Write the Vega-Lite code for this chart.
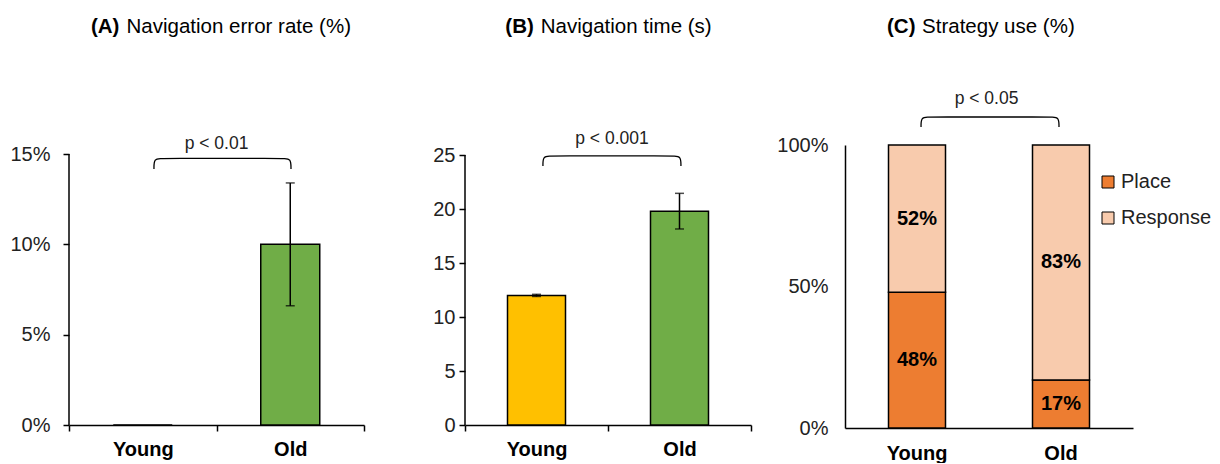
{
  "$schema": "https://vega.github.io/schema/vega-lite/v6.json",
  "padding": {"left": 9, "top": 16, "right": 0, "bottom": 0},
  "config": {
    "font": "Liberation Sans",
    "view": {"stroke": null},
    "axis": {"domainColor": "black", "tickColor": "black", "domainWidth": 1.5, "tickWidth": 1.5, "labelFontSize": 20, "labelColor": "#222222", "grid": false},
    "axisX": {"labelFontWeight": "bold", "labelColor": "black", "labelAngle": 0}
  },
  "datasets": {
    "navError": [
      {"group": "Young", "rate": 0},
      {"group": "Old", "rate": 0.10, "lo": 0.066, "hi": 0.134}
    ],
    "navTime": [
      {"group": "Young", "time": 12.0, "lo": 11.9, "hi": 12.1},
      {"group": "Old", "time": 19.8, "lo": 18.15, "hi": 21.45}
    ],
    "strategy": [
      {"group": "Young", "strategy": "Place", "share": 0.48},
      {"group": "Young", "strategy": "Response", "share": 0.52},
      {"group": "Old", "strategy": "Place", "share": 0.17},
      {"group": "Old", "strategy": "Response", "share": 0.83}
    ],
    "single": [{}],
    "braceA": [
      {"step": 0, "pos": 0.576, "level": 0.1417},
      {"step": 1, "pos": 0.576, "level": 0.1476},
      {"step": 2, "pos": 0.630, "level": 0.1476},
      {"step": 3, "pos": 1.451, "level": 0.1476},
      {"step": 4, "pos": 1.505, "level": 0.1476},
      {"step": 5, "pos": 1.505, "level": 0.1417}
    ],
    "braceB": [
      {"step": 0, "pos": 0.545, "level": 23.98},
      {"step": 1, "pos": 0.545, "level": 24.91},
      {"step": 2, "pos": 0.601, "level": 24.91},
      {"step": 3, "pos": 1.454, "level": 24.91},
      {"step": 4, "pos": 1.510, "level": 24.91},
      {"step": 5, "pos": 1.510, "level": 23.98}
    ],
    "braceC": [
      {"step": 0, "pos": 0.528, "level": 1.0636},
      {"step": 1, "pos": 0.528, "level": 1.0989},
      {"step": 2, "pos": 0.584, "level": 1.0989},
      {"step": 3, "pos": 1.430, "level": 1.0989},
      {"step": 4, "pos": 1.486, "level": 1.0989},
      {"step": 5, "pos": 1.486, "level": 1.0636}
    ]
  },
  "spacing": 24,
  "resolve": {"scale": {"color": "independent"}, "legend": {"color": "independent"}},
  "hconcat": [
    {
      "width": 295,
      "height": 280,
      "resolve": {"scale": {"x": "independent", "y": "independent"}, "axis": {"x": "independent", "y": "independent"}},
      "layer": [
        {
          "data": {"name": "navError"},
          "mark": {"type": "bar", "size": 59, "stroke": "black", "strokeWidth": 1.5},
          "encoding": {
            "x": {"field": "group", "type": "nominal", "sort": ["Young", "Old"], "scale": {"paddingInner": 0, "paddingOuter": 0}, "axis": {"title": null, "tickBand": "extent", "tickSize": 6, "labelPadding": 8}},
            "y": {"field": "rate", "type": "quantitative", "scale": {"domain": [0, 0.155], "nice": false}, "axis": {"title": null, "values": [0, 0.05, 0.1, 0.15], "format": ".0%", "domain": false, "tickSize": 6, "labelPadding": 13}},
            "color": {"field": "group", "type": "nominal", "scale": {"domain": ["Young", "Old"], "range": ["#FFC000", "#70AD47"]}, "legend": null}
          }
        },
        {
          "data": {"name": "navError"},
          "transform": [{"filter": "isValid(datum.lo)"}],
          "mark": {"type": "rule", "color": "black", "strokeWidth": 1.5},
          "encoding": {
            "x": {"field": "group", "type": "nominal", "sort": ["Young", "Old"], "scale": {"domain": ["Young", "Old"], "paddingInner": 0, "paddingOuter": 0}, "axis": null},
            "y": {"field": "lo", "type": "quantitative", "scale": {"domain": [0, 0.155], "nice": false}, "axis": null},
            "y2": {"field": "hi"}
          }
        },
        {
          "data": {"name": "navError"},
          "transform": [{"filter": "isValid(datum.lo)"}],
          "mark": {"type": "tick", "color": "black", "size": 9, "thickness": 1.5},
          "encoding": {
            "x": {"field": "group", "type": "nominal", "sort": ["Young", "Old"], "scale": {"domain": ["Young", "Old"], "paddingInner": 0, "paddingOuter": 0}, "axis": null},
            "y": {"field": "lo", "type": "quantitative", "scale": {"domain": [0, 0.155], "nice": false}, "axis": null}
          }
        },
        {
          "data": {"name": "navError"},
          "transform": [{"filter": "isValid(datum.hi)"}],
          "mark": {"type": "tick", "color": "black", "size": 9, "thickness": 1.5},
          "encoding": {
            "x": {"field": "group", "type": "nominal", "sort": ["Young", "Old"], "scale": {"domain": ["Young", "Old"], "paddingInner": 0, "paddingOuter": 0}, "axis": null},
            "y": {"field": "hi", "type": "quantitative", "scale": {"domain": [0, 0.155], "nice": false}, "axis": null}
          }
        },
        {
          "data": {"name": "single"},
          "mark": {"type": "rule", "color": "black", "strokeWidth": 1.5},
          "encoding": {
            "x": {"datum": 0, "type": "quantitative", "scale": {"domain": [0, 2], "nice": false, "zero": false}, "axis": null},
            "y": {"datum": 0, "type": "quantitative", "scale": {"domain": [0, 0.155], "nice": false}, "axis": null},
            "y2": {"datum": 0.15}
          }
        },
        {
          "data": {"name": "braceA"},
          "mark": {"type": "line", "color": "black", "strokeWidth": 1.3, "interpolate": "basis"},
          "encoding": {
            "x": {"field": "pos", "type": "quantitative", "scale": {"domain": [0, 2], "nice": false, "zero": false}, "axis": null},
            "y": {"field": "level", "type": "quantitative", "scale": {"domain": [0, 0.155], "nice": false}, "axis": null},
            "order": {"field": "step"}
          }
        },
        {
          "data": {"name": "single"},
          "mark": {"type": "text", "fontSize": 17.5, "align": "center", "baseline": "alphabetic", "color": "#222222"},
          "encoding": {
            "x": {"datum": 1.0, "type": "quantitative", "scale": {"domain": [0, 2], "nice": false, "zero": false}, "axis": null},
            "y": {"datum": 0.153, "type": "quantitative", "scale": {"domain": [0, 0.155], "nice": false}, "axis": null},
            "text": {"value": "p < 0.01"}
          }
        },
        {
          "data": {"name": "single"},
          "mark": {"type": "text", "fontSize": 20.5, "fontWeight": "bold", "align": "left", "baseline": "alphabetic", "color": "black"},
          "encoding": {
            "x": {"datum": 0.149, "type": "quantitative", "scale": {"domain": [0, 2], "nice": false, "zero": false}, "axis": null},
            "y": {"datum": 0.217, "type": "quantitative", "scale": {"domain": [0, 0.155], "nice": false}, "axis": null},
            "text": {"value": "(A)"}
          }
        },
        {
          "data": {"name": "single"},
          "mark": {"type": "text", "fontSize": 20.5, "align": "left", "baseline": "alphabetic", "color": "black"},
          "encoding": {
            "x": {"datum": 0.39, "type": "quantitative", "scale": {"domain": [0, 2], "nice": false, "zero": false}, "axis": null},
            "y": {"datum": 0.217, "type": "quantitative", "scale": {"domain": [0, 0.155], "nice": false}, "axis": null},
            "text": {"value": "Navigation error rate (%)"}
          }
        }
      ]
    },
    {
      "width": 286,
      "height": 280,
      "resolve": {"scale": {"x": "independent", "y": "independent"}, "axis": {"x": "independent", "y": "independent"}},
      "layer": [
        {
          "data": {"name": "navTime"},
          "mark": {"type": "bar", "size": 58, "stroke": "black", "strokeWidth": 1.5},
          "encoding": {
            "x": {"field": "group", "type": "nominal", "sort": ["Young", "Old"], "scale": {"paddingInner": 0, "paddingOuter": 0}, "axis": {"title": null, "tickBand": "extent", "tickSize": 6, "labelPadding": 8}},
            "y": {"field": "time", "type": "quantitative", "scale": {"domain": [0, 25.926], "nice": false}, "axis": {"title": null, "values": [0, 5, 10, 15, 20, 25], "domain": false, "tickSize": 6, "labelPadding": 4, "minExtent": 76}},
            "color": {"field": "group", "type": "nominal", "scale": {"domain": ["Young", "Old"], "range": ["#FFC000", "#70AD47"]}, "legend": null}
          }
        },
        {
          "data": {"name": "navTime"},
          "mark": {"type": "rule", "color": "black", "strokeWidth": 1.5},
          "encoding": {
            "x": {"field": "group", "type": "nominal", "sort": ["Young", "Old"], "scale": {"domain": ["Young", "Old"], "paddingInner": 0, "paddingOuter": 0}, "axis": null},
            "y": {"field": "lo", "type": "quantitative", "scale": {"domain": [0, 25.926], "nice": false}, "axis": null},
            "y2": {"field": "hi"}
          }
        },
        {
          "data": {"name": "navTime"},
          "mark": {"type": "tick", "color": "black", "size": 9, "thickness": 1.5},
          "encoding": {
            "x": {"field": "group", "type": "nominal", "sort": ["Young", "Old"], "scale": {"domain": ["Young", "Old"], "paddingInner": 0, "paddingOuter": 0}, "axis": null},
            "y": {"field": "lo", "type": "quantitative", "scale": {"domain": [0, 25.926], "nice": false}, "axis": null}
          }
        },
        {
          "data": {"name": "navTime"},
          "mark": {"type": "tick", "color": "black", "size": 9, "thickness": 1.5},
          "encoding": {
            "x": {"field": "group", "type": "nominal", "sort": ["Young", "Old"], "scale": {"domain": ["Young", "Old"], "paddingInner": 0, "paddingOuter": 0}, "axis": null},
            "y": {"field": "hi", "type": "quantitative", "scale": {"domain": [0, 25.926], "nice": false}, "axis": null}
          }
        },
        {
          "data": {"name": "single"},
          "mark": {"type": "rule", "color": "black", "strokeWidth": 1.5},
          "encoding": {
            "x": {"datum": 0, "type": "quantitative", "scale": {"domain": [0, 2], "nice": false, "zero": false}, "axis": null},
            "y": {"datum": 0, "type": "quantitative", "scale": {"domain": [0, 25.926], "nice": false}, "axis": null},
            "y2": {"datum": 25}
          }
        },
        {
          "data": {"name": "braceB"},
          "mark": {"type": "line", "color": "black", "strokeWidth": 1.3, "interpolate": "basis"},
          "encoding": {
            "x": {"field": "pos", "type": "quantitative", "scale": {"domain": [0, 2], "nice": false, "zero": false}, "axis": null},
            "y": {"field": "level", "type": "quantitative", "scale": {"domain": [0, 25.926], "nice": false}, "axis": null},
            "order": {"field": "step"}
          }
        },
        {
          "data": {"name": "single"},
          "mark": {"type": "text", "fontSize": 17.5, "align": "center", "baseline": "alphabetic", "color": "#222222"},
          "encoding": {
            "x": {"datum": 1.028, "type": "quantitative", "scale": {"domain": [0, 2], "nice": false, "zero": false}, "axis": null},
            "y": {"datum": 26.02, "type": "quantitative", "scale": {"domain": [0, 25.926], "nice": false}, "axis": null},
            "text": {"value": "p < 0.001"}
          }
        },
        {
          "data": {"name": "single"},
          "mark": {"type": "text", "fontSize": 20.5, "fontWeight": "bold", "align": "left", "baseline": "alphabetic", "color": "black"},
          "encoding": {
            "x": {"datum": 0.282, "type": "quantitative", "scale": {"domain": [0, 2], "nice": false, "zero": false}, "axis": null},
            "y": {"datum": 36.3, "type": "quantitative", "scale": {"domain": [0, 25.926], "nice": false}, "axis": null},
            "text": {"value": "(B)"}
          }
        },
        {
          "data": {"name": "single"},
          "mark": {"type": "text", "fontSize": 20.5, "align": "left", "baseline": "alphabetic", "color": "black"},
          "encoding": {
            "x": {"datum": 0.53, "type": "quantitative", "scale": {"domain": [0, 2], "nice": false, "zero": false}, "axis": null},
            "y": {"datum": 36.3, "type": "quantitative", "scale": {"domain": [0, 25.926], "nice": false}, "axis": null},
            "text": {"value": "Navigation time (s)"}
          }
        }
      ]
    },
    {
      "width": 288,
      "height": 283,
      "resolve": {"scale": {"x": "independent", "y": "independent"}, "axis": {"x": "independent", "y": "independent"}},
      "layer": [
        {
          "data": {"name": "strategy"},
          "mark": {"type": "bar", "size": 57, "stroke": "black", "strokeWidth": 1.5},
          "encoding": {
            "x": {"field": "group", "type": "nominal", "sort": ["Young", "Old"], "scale": {"paddingInner": 0, "paddingOuter": 0}, "axis": {"title": null, "ticks": false, "labelPadding": 15}},
            "y": {"field": "share", "type": "quantitative", "stack": "zero", "scale": {"domain": [0, 1], "nice": false}, "axis": {"title": null, "values": [0, 0.5, 1], "format": ".0%", "ticks": false, "labelPadding": 17}},
            "order": {"field": "strategy", "sort": "ascending"},
            "color": {
              "field": "strategy", "type": "nominal",
              "scale": {"domain": ["Place", "Response"], "range": ["#ED7D31", "#F8CBAD"]},
              "legend": {"title": null, "orient": "none", "legendX": 253, "legendY": 27, "padding": 0, "symbolType": "square", "symbolSize": 144, "symbolStrokeColor": "black", "symbolStrokeWidth": 1, "labelFontSize": 20, "labelColor": "#222222", "labelOffset": 3, "rowPadding": 16}
            }
          }
        },
        {
          "data": {"name": "strategy"},
          "mark": {"type": "text", "fontSize": 20, "fontWeight": "bold", "color": "black", "baseline": "middle"},
          "encoding": {
            "x": {"field": "group", "type": "nominal", "sort": ["Young", "Old"], "scale": {"domain": ["Young", "Old"], "paddingInner": 0, "paddingOuter": 0}, "axis": null},
            "y": {"field": "share", "type": "quantitative", "stack": "zero", "bandPosition": 0.5, "scale": {"domain": [0, 1], "nice": false}, "axis": null},
            "order": {"field": "strategy", "sort": "ascending"},
            "detail": {"field": "strategy"},
            "text": {"field": "share", "format": ".0%"}
          }
        },
        {
          "data": {"name": "braceC"},
          "mark": {"type": "line", "color": "black", "strokeWidth": 1.3, "interpolate": "basis"},
          "encoding": {
            "x": {"field": "pos", "type": "quantitative", "scale": {"domain": [0, 2], "nice": false, "zero": false}, "axis": null},
            "y": {"field": "level", "type": "quantitative", "scale": {"domain": [0, 1], "nice": false}, "axis": null},
            "order": {"field": "step"}
          }
        },
        {
          "data": {"name": "single"},
          "mark": {"type": "text", "fontSize": 17.5, "align": "center", "baseline": "alphabetic", "color": "#222222"},
          "encoding": {
            "x": {"datum": 0.983, "type": "quantitative", "scale": {"domain": [0, 2], "nice": false, "zero": false}, "axis": null},
            "y": {"datum": 1.145, "type": "quantitative", "scale": {"domain": [0, 1], "nice": false}, "axis": null},
            "text": {"value": "p < 0.05"}
          }
        },
        {
          "data": {"name": "single"},
          "mark": {"type": "text", "fontSize": 20.5, "fontWeight": "bold", "align": "left", "baseline": "alphabetic", "color": "black"},
          "encoding": {
            "x": {"datum": 0.292, "type": "quantitative", "scale": {"domain": [0, 2], "nice": false, "zero": false}, "axis": null},
            "y": {"datum": 1.3958, "type": "quantitative", "scale": {"domain": [0, 1], "nice": false}, "axis": null},
            "text": {"value": "(C)"}
          }
        },
        {
          "data": {"name": "single"},
          "mark": {"type": "text", "fontSize": 20.5, "align": "left", "baseline": "alphabetic", "color": "black"},
          "encoding": {
            "x": {"datum": 0.535, "type": "quantitative", "scale": {"domain": [0, 2], "nice": false, "zero": false}, "axis": null},
            "y": {"datum": 1.3958, "type": "quantitative", "scale": {"domain": [0, 1], "nice": false}, "axis": null},
            "text": {"value": "Strategy use (%)"}
          }
        }
      ]
    }
  ]
}
